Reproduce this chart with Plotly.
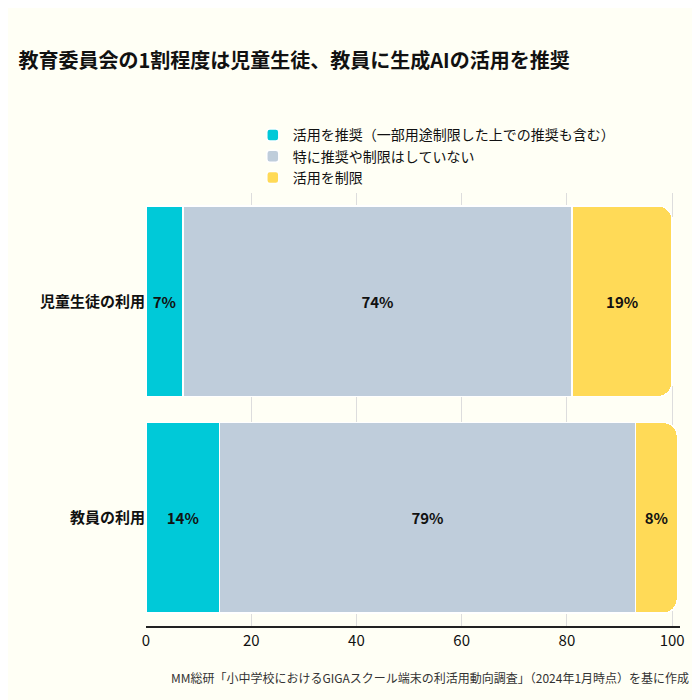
import plotly.graph_objects as go

categories = ["教員の利用", "児童生徒の利用"]
series_names = ["活用を推奨（一部用途制限した上での推奨も含む）", "特に推奨や制限はしていない", "活用を制限"]
recommend = [14, 7]
neutral = [79, 74]
restrict = [8, 19]
colors = ["#00C9D8", "#BFCDDB", "#FFDA57"]

fig = go.Figure()
for name, vals, c in zip(series_names, [recommend, neutral, restrict], colors):
    fig.add_trace(go.Bar(
        y=categories, x=vals, name=name, orientation="h",
        marker=dict(color=c, line=dict(color="white", width=1.5)),
        text=[f"<b>{v}%</b>" for v in vals], textposition="inside", insidetextanchor="middle",
        textfont=dict(size=15, color="#111111"),
    ))

fig.update_layout(
    barmode="stack", bargap=0.12, barcornerradius=14,
    width=700, height=700,
    paper_bgcolor="#FFFFF5", plot_bgcolor="#FFFFF5",
    font=dict(family="Noto Sans CJK JP", color="#111111"),
    margin=dict(l=138, r=28, t=185, b=82),
    title=dict(text="<b>教育委員会の1割程度は児童生徒、教員に生成AIの活用を推奨</b>",
               x=0.015, xanchor="left", y=0.925, yanchor="middle", font=dict(size=20)),
    legend=dict(orientation="h", x=0.2, xanchor="left", y=1.17, yanchor="top",
                font=dict(size=14), traceorder="normal", tracegroupgap=0),
    xaxis=dict(range=[0, 101.5], tickvals=[0, 20, 40, 60, 80, 100],
               showgrid=True, gridcolor="#DDDDDD", zeroline=False,
               showline=True, linecolor="#222222", linewidth=1.5,
               ticks="", tickfont=dict(size=15)),
    yaxis=dict(tickfont=dict(size=15), ticksuffix="  ",
               tickvals=categories, ticktext=[f"<b>{c}</b>" for c in categories]),
)
fig.add_annotation(text="MM総研「小中学校におけるGIGAスクール端末の利活用動向調査」（2024年1月時点）を基に作成",
                   xref="paper", yref="paper", x=1.02, y=-0.095, xanchor="right", yanchor="top",
                   showarrow=False, font=dict(size=12, color="#333333"))
fig.write_html("out.html")
